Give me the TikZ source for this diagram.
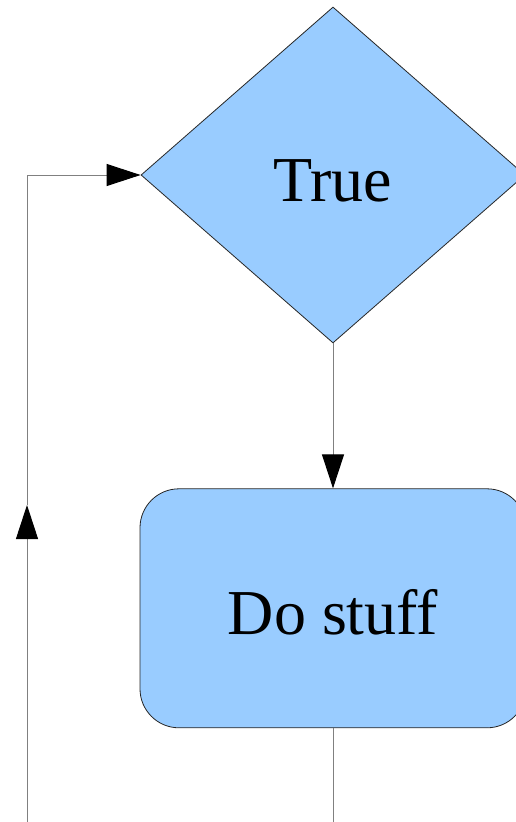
\documentclass[tikz,border=0pt]{standalone}
\usepackage{fontspec}
\setmainfont{Liberation Serif}
\usetikzlibrary{positioning}
\usetikzlibrary{shapes.geometric}
\usetikzlibrary{arrows.meta}

\definecolor{boxblue}{HTML}{99CCFF}
\definecolor{linegray}{HTML}{808080}

\tikzset{
	block/.style={fill=boxblue, draw=black!85, line width=0.8pt, inner sep=0pt,
		font=\fontsize{64}{76}\selectfont, text height=52pt, text depth=0pt},
	flow/.style={draw=linegray, line width=1pt, -{Triangle[length=34pt, width=22pt, color=black]}},
	plain/.style={draw=linegray, line width=1pt}
}

\begin{document}
\begin{tikzpicture}[x=1pt, y=-1pt]
	
	\useasboundingbox (0,0) rectangle (515,822);
	
	\node [block, diamond, minimum width=384pt, minimum height=336pt] at (333,175) (cond) {True};
	\node [block, rectangle, rounded corners=39pt, minimum width=386pt, minimum height=239pt, below=145pt of cond] (stuff) {Do stuff};
	
	\coordinate (loopstart) at (27,822);
	\coordinate (loopmid) at (27,505);
	\coordinate (loopcorner) at (loopstart |- cond.west);
	\coordinate (exit) at (stuff.south |- loopstart);
	
	\draw [flow] (cond.south) -- (stuff.north);
	\draw [plain] (stuff.south) -- (exit);
	
	\draw [flow] (loopstart) -- (loopmid);
	\draw [flow] (loopmid) -- (loopcorner) -- (cond.west);
	
\end{tikzpicture}
\end{document}
